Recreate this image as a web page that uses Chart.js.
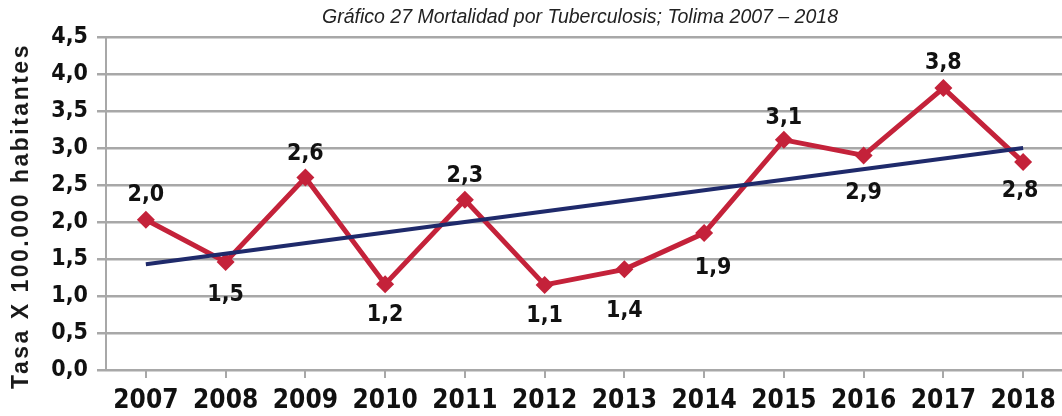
<!DOCTYPE html>
<html>
<head>
<meta charset="utf-8">
<script src="https://cdn.jsdelivr.net/npm/chart.js@4"></script>
<style>
  html, body { margin: 0; padding: 0; background: #fff; overflow: hidden; }
  #wrap { width: 1072px; height: 416px; }
</style>
</head>
<body>
<div id="wrap"><canvas id="tbChart"></canvas></div>
<script>
    'use strict';

    // datos
    var years = ['2007', '2008', '2009', '2010', '2011', '2012', '2013', '2014', '2015', '2016', '2017', '2018'];
    var tasa = [2.03, 1.46, 2.6, 1.16, 2.3, 1.15, 1.36, 1.85, 3.11, 2.9, 3.81, 2.81];
    var tendencia = [1.43, null, null, null, null, null, null, null, null, null, null, 3.0];
    var yTicks = [0, 0.5, 1, 1.5, 2, 2.5, 3, 3.5, 4, 4.5];

    // posicion de las etiquetas respecto al punto (px)
    var labelDy = [-25, 33, -24, 31, -24, 31, 42, 35, -22, 38, -25, 29];
    var labelDx = [0, 0, 0, 0, 0, 0, 0, 9, 0, 0, 0, -3];

    var rojo = '#c4223a';
    var azul = '#1f2a6b';
    var narrow = "'Liberation Sans Narrow', 'DejaVu Sans Condensed', 'Arial Narrow', sans-serif";

    function fmt(v) {
        return v.toFixed(1).replace('.', ',');
    }

    var extras = {
        id: 'extras',
        afterDatasetsDraw: function (chart) {
            var ctx = chart.ctx;
            var meta = chart.getDatasetMeta(1);
            ctx.save();
            ctx.fillStyle = '#111';
            ctx.font = 'bold 23px ' + narrow;
            ctx.textAlign = 'center';
            ctx.textBaseline = 'middle';
            meta.data.forEach(function (pt, i) {
                ctx.fillText(fmt(tasa[i]), pt.x + labelDx[i], pt.y + labelDy[i]);
            });
            ctx.restore();

            // titulo
            ctx.save();
            ctx.fillStyle = '#222';
            ctx.font = 'italic 19.5px "Liberation Sans", Arial, sans-serif';
            ctx.textAlign = 'center';
            ctx.textBaseline = 'middle';
            ctx.fillText('Gráfico 27 Mortalidad por Tuberculosis; Tolima 2007 – 2018', 580, 18);
            ctx.restore();

            // titulo eje y
            ctx.save();
            ctx.fillStyle = '#1a1a1a';
            ctx.font = 'bold 23px "Liberation Sans", Arial, sans-serif';
            ctx.letterSpacing = '2.5px';
            ctx.textAlign = 'center';
            ctx.textBaseline = 'middle';
            ctx.translate(22, 216);
            ctx.rotate(-Math.PI / 2);
            ctx.fillText('Tasa X 100.000 habitantes', 0, 0);
            ctx.restore();
        }
    };

    var tbChart = new Chart(document.getElementById('tbChart'), {
        type: 'line',
        data: {
            labels: years,
            datasets: [
                {
                    label: 'Tendencia',
                    data: tendencia,
                    borderColor: azul,
                    borderWidth: 4,
                    pointRadius: 0,
                    spanGaps: true,
                    fill: false
                },
                {
                    label: 'Tasa',
                    data: tasa,
                    borderColor: rojo,
                    backgroundColor: rojo,
                    borderWidth: 5,
                    pointStyle: 'rectRot',
                    pointRadius: 9,
                    pointBorderWidth: 0,
                    pointBackgroundColor: rojo,
                    lineTension: 0,
                    fill: false
                }
            ]
        },
        options: {
            responsive: true,
            maintainAspectRatio: false,
            animation: false,
            layout: { padding: { top: 37, right: 1, left: 0, bottom: 0 } },
            plugins: {
                legend: { display: false },
                title: { display: false },
                tooltip: { enabled: false }
            },
            scales: {
                x: {
                    offset: true,
                    grid: {
                        drawOnChartArea: false,
                        drawTicks: true,
                        tickLength: 8,
                        color: '#a8a8a8',
                        lineWidth: 2
                    },
                    border: { display: false },
                    ticks: {
                        color: '#111',
                        padding: 8,
                        font: { family: narrow, size: 26, weight: 'bold' }
                    },
                    afterFit: function (scale) { scale.height = 46; }
                },
                y: {
                    min: 0,
                    max: 4.5,
                    afterBuildTicks: function (scale) {
                        scale.ticks = yTicks.map(function (v) { return { value: v }; });
                    },
                    grid: {
                        color: '#a8a8a8',
                        lineWidth: 2.5,
                        tickLength: 9
                    },
                    border: { display: true, color: '#a8a8a8', width: 2 },
                    ticks: {
                        color: '#111',
                        padding: 9,
                        font: { family: narrow, size: 23, weight: 'bold' },
                        callback: function (v) { return fmt(v); }
                    },
                    afterFit: function (scale) { scale.width = 106; }
                }
            }
        },
        plugins: [extras]
    });
</script>
</body>
</html>
